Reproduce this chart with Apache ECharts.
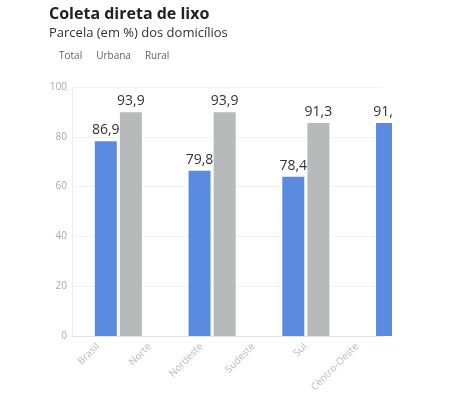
<!DOCTYPE html>
<html>
<head>
<meta charset="utf-8">
<script src="https://cdn.jsdelivr.net/npm/echarts@6/dist/echarts.min.js"></script>
<style>
  html, body { margin: 0; padding: 0; background: #fff; }
  #wrap { width: 392px; height: 397px; overflow: hidden; }
  #chart { width: 462px; height: 397px; }
</style>
</head>
<body>
<div id="wrap"><div id="chart"></div></div>
<script>
var regioes = ['Brasil', 'Norte', 'Nordeste', 'Sudeste', 'Sul', 'Centro-Oeste'];
var grupos = ['Brasil', 'Nordeste', 'Sul', 'Centro-Oeste'];
var total = [86.9, 79.8, 78.4, 91.3];
var urbana = [93.9, 93.9, 91.3, null];
var rural = [null, null, null, null];
var yTicks = [0, 20, 40, 60, 80, 100];

var chart = echarts.init(document.getElementById('chart'));

function virgula(p) {
  return String(p.value).replace('.', ',');
}

var rotulo = {
  show: true,
  position: 'top',
  distance: 4,
  fontSize: 14,
  color: '#333',
  fontFamily: 'Open Sans',
  formatter: virgula
};

option = {
  animation: false,
  textStyle: { fontFamily: 'Open Sans' },
  title: [
    {
      text: 'Coleta direta de lixo',
      left: 44, top: 1,
      textStyle: { fontSize: 16, fontWeight: 'bold', color: '#222', fontFamily: 'Open Sans' }
    },
    {
      text: 'Parcela (em %) dos domicílios',
      left: 44, top: 22,
      textStyle: { fontSize: 13, fontWeight: 'normal', color: '#333', fontFamily: 'Open Sans' }
    }
  ],
  legend: {
    data: ['Total', 'Urbana', 'Rural'],
    left: 54, top: 51,
    padding: 0,
    itemWidth: 0, itemHeight: 0,
    itemGap: 9,
    icon: 'rect',
    selectedMode: false,
    textStyle: { fontSize: 10, color: '#666', fontFamily: 'Open Sans' }
  },
  grid: [
    { left: 72, right: 79, top: 87, bottom: 61 },
    { left: 84, width: 375, top: 87, bottom: 61 }
  ],
  xAxis: [
    {
      type: 'category',
      gridIndex: 0,
      data: regioes,
      axisTick: { show: false },
      axisLine: { lineStyle: { color: '#e4e4e4' } },
      axisLabel: { rotate: 45, color: '#bbb', fontSize: 10, margin: 9 }
    },
    {
      type: 'category',
      gridIndex: 1,
      data: grupos,
      show: false
    }
  ],
  yAxis: [
    {
      type: 'value',
      gridIndex: 0,
      min: yTicks[0],
      max: yTicks[yTicks.length - 1],
      interval: 20,
      axisLine: { show: true, lineStyle: { color: '#eee' } },
      axisTick: { show: false },
      splitLine: { lineStyle: { color: '#f2f2f2' } },
      axisLabel: { color: '#aaa', fontSize: 10, margin: 5 }
    },
    {
      type: 'value',
      gridIndex: 1,
      min: 40,
      max: 100,
      show: false,
      splitLine: { show: false }
    }
  ],
  series: [
    {
      name: 'Total', type: 'bar', xAxisIndex: 1, yAxisIndex: 1,
      data: total, barWidth: 22, barGap: '14%',
      itemStyle: { color: '#5b8be0' },
      label: rotulo
    },
    {
      name: 'Urbana', type: 'bar', xAxisIndex: 1, yAxisIndex: 1,
      data: urbana, barWidth: 22, barGap: '14%',
      itemStyle: { color: '#b7b9bb' },
      label: rotulo
    },
    {
      name: 'Rural', type: 'bar', xAxisIndex: 1, yAxisIndex: 1,
      data: rural, barWidth: 22, barGap: '14%',
      itemStyle: { color: '#9fb9e8' },
      label: rotulo
    }
  ]
};

chart.setOption(option);
</script>
</body>
</html>
